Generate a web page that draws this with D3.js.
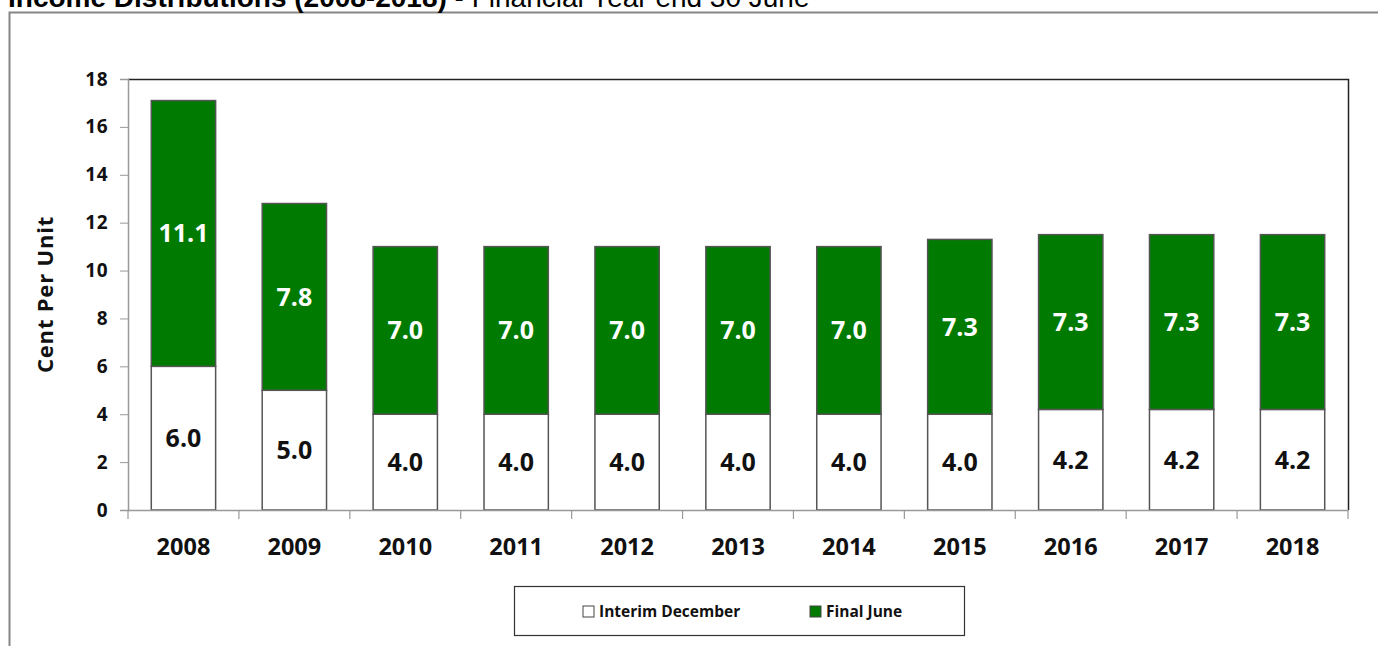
<!DOCTYPE html>
<html>
<head>
<meta charset="utf-8">
<script src="https://cdn.jsdelivr.net/npm/d3@7"></script>
<style>
  body { margin: 0; background: #fff; }
  svg { display: block; font-family: "Open Sans", "DejaVu Sans", sans-serif; }
</style>
</head>
<body>
<div id="chart"></div>
<script>
// Data
const years = ['2008', '2009', '2010', '2011', '2012', '2013', '2014', '2015', '2016', '2017', '2018'];
const interimDecember = [6.0, 5.0, 4.0, 4.0, 4.0, 4.0, 4.0, 4.0, 4.2, 4.2, 4.2];
const finalJune = [11.1, 7.8, 7.0, 7.0, 7.0, 7.0, 7.0, 7.3, 7.3, 7.3, 7.3];
const yTicks = [0, 2, 4, 6, 8, 10, 12, 14, 16, 18];
const seriesNames = ['Interim December', 'Final June'];

const W = 1378, H = 646;
const plot = { left: 128, right: 1348, top: 79, bottom: 510 };
const GREEN = '#007A00';

const svg = d3.select('#chart').append('svg')
    .attr('width', W)
    .attr('height', H);

// outer frame (top/left visible)
svg.append('rect')
    .attr('x', 9.5).attr('y', 12.5)
    .attr('width', W + 20).attr('height', H + 20)
    .attr('fill', 'none')
    .attr('stroke', '#868686')
    .attr('stroke-width', 2);

// title, clipped at top like the original
const title = svg.append('text')
    .attr('x', 8).attr('y', 7)
    .style('font-family', '"Liberation Sans", Arial, sans-serif')
    .style('font-size', '28px');
title.append('tspan').attr('font-weight', 'bold').text('Income Distributions (2008-2018)');
title.append('tspan').text(' - Financial Year end 30 June');

// scales
const x = d3.scaleBand()
    .domain(years)
    .range([plot.left, plot.right])
    .paddingInner(0.42)
    .paddingOuter(0.21);

const y = d3.scaleLinear()
    .domain([0, 18])
    .range([plot.bottom, plot.top]);

// plot area border (top/right)
svg.append('path')
    .attr('d', `M${plot.left},${plot.top + 0.5}H${plot.right + 0.5}V${plot.bottom}`)
    .attr('fill', 'none')
    .attr('stroke', '#222')
    .attr('stroke-width', 1.5);

// stacked data
const rows = years.map((yr, i) => ({ year: yr, interim: interimDecember[i], final: finalJune[i] }));
const stacked = d3.stack().keys(['interim', 'final'])(rows);
const fills = { interim: '#ffffff', final: GREEN };

svg.selectAll('.layer')
    .data(stacked)
    .enter()
    .append('g')
    .attr('fill', d => fills[d.key])
    .selectAll('rect')
    .data(d => d)
    .enter()
    .append('rect')
    .attr('x', d => x(d.data.year))
    .attr('y', d => y(d[1]))
    .attr('width', x.bandwidth())
    .attr('height', d => y(d[0]) - y(d[1]))
    .attr('stroke', '#555')
    .attr('stroke-width', 1.5);

// segment labels
stacked.forEach(layer => {
    svg.append('g').selectAll('text')
        .data(layer)
        .enter()
        .append('text')
        .attr('x', d => x(d.data.year) + x.bandwidth() / 2)
        .attr('y', d => y((d[0] + d[1]) / 2))
        .attr('dy', '0.36em')
        .attr('text-anchor', 'middle')
        .attr('font-weight', 'bold')
        .style('font-size', '25px')
        .attr('fill', layer.key === 'final' ? '#fff' : '#111')
        .text(d => (d[1] - d[0]).toFixed(1));
});

// y axis
const yAxis = svg.append('g')
    .attr('transform', `translate(${plot.left},0)`)
    .call(d3.axisLeft(y).tickValues(yTicks).tickSize(8).tickPadding(12));
yAxis.select('.domain').attr('stroke', '#999').attr('stroke-width', 1.5);
yAxis.selectAll('.tick line').attr('stroke', '#999');
yAxis.selectAll('.tick text')
    .attr('font-weight', 'bold')
    .style('font-size', '19px')
    .style('letter-spacing', '0.5px')
    .style('font-family', '"Open Sans", sans-serif')
    .attr('fill', '#111');

// x axis: ticks at category boundaries
const xAxis = svg.append('g')
    .attr('transform', `translate(0,${plot.bottom})`)
    .call(d3.axisBottom(x).tickSize(0).tickPadding(28));
xAxis.select('.domain').attr('stroke', '#999').attr('stroke-width', 1.5);
xAxis.selectAll('.tick text')
    .attr('font-weight', 'bold')
    .style('font-size', '23.5px')
    .style('font-family', '"Open Sans", sans-serif')
    .attr('fill', '#111');

const boundaries = d3.range(years.length + 1).map(i => plot.left + i * (plot.right - plot.left) / years.length);
xAxis.selectAll('.bound')
    .data(boundaries)
    .enter()
    .append('line')
    .attr('x1', d => d).attr('x2', d => d)
    .attr('y1', 0).attr('y2', 9)
    .attr('stroke', '#999')
    .attr('stroke-width', 1.2);

// y axis title
svg.append('text')
    .attr('transform', `translate(53,${(plot.top + plot.bottom) / 2}) rotate(-90)`)
    .attr('text-anchor', 'middle')
    .attr('font-weight', 'bold')
    .style('font-size', '22px')
    .style('letter-spacing', '0.8px')
    .attr('fill', '#111')
    .text('Cent Per Unit');

// legend
const legend = svg.append('g');
legend.append('rect')
    .attr('x', 514.5).attr('y', 586.5)
    .attr('width', 450).attr('height', 49)
    .attr('fill', '#fff')
    .attr('stroke', '#333')
    .attr('stroke-width', 1.2);

const legendX = [583, 810];
seriesNames.forEach((name, i) => {
    const g = legend.append('g').attr('transform', `translate(${legendX[i]},606)`);
    g.append('rect')
        .attr('width', 11).attr('height', 11)
        .attr('fill', i === 0 ? '#fff' : GREEN)
        .attr('stroke', '#444');
    g.append('text')
        .attr('x', 16).attr('y', 11)
        .attr('font-weight', 'bold')
        .style('font-size', '15.5px')
        .attr('fill', '#111')
        .text(name);
});
</script>
</body>
</html>
